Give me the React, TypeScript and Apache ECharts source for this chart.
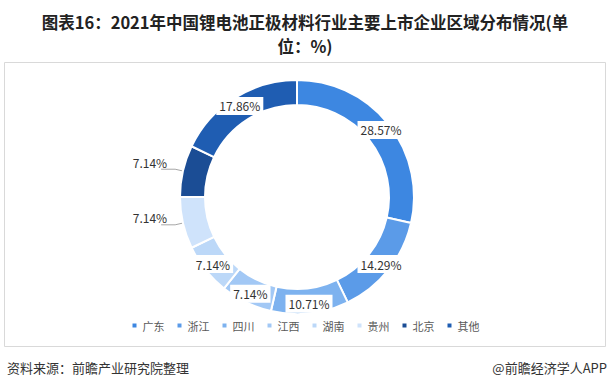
import React, { useEffect, useRef } from "react";
import * as echarts from "echarts";

const titleLine1 = "图表16：2021年中国锂电池正极材料行业主要上市企业区域分布情况(单";
const titleLine2 = "位：%)";
const categories = ["广东", "浙江", "四川", "江西", "湖南", "贵州", "北京", "其他"];
const values = [28.57, 14.29, 10.71, 7.14, 7.14, 7.14, 7.14, 17.86];
const colors = ["#3d87e1", "#5b9be8", "#7db2ef", "#a2c8f5", "#bcd8f8", "#cfe3fb", "#1b4d95", "#1f5db2"];
const outsideLabels = ["贵州", "北京"];
const sourceText = "资料来源：前瞻产业研究院整理";
const brandText = "@前瞻经济学人APP";

export default function App() {
  const ref = useRef<HTMLDivElement>(null);
  useEffect(() => {
    if (!ref.current) return;
    const chart = echarts.init(ref.current, null, { renderer: "svg" });
    const font = "'Noto Sans CJK SC', 'Noto Sans', sans-serif";
    chart.setOption({
      animation: false,
      backgroundColor: "#ffffff",
      textStyle: { fontFamily: font },
      graphic: [
        {
          type: "rect",
          shape: { x: 4.5, y: 62.5, width: 601, height: 284 },
          style: { fill: "none", stroke: "#d9d9d9", lineWidth: 1 },
          silent: true,
        },
        {
          type: "text",
          x: 305,
          y: 22,
          style: {
            text: titleLine1,
            fontSize: 16.5,
            lineHeight: 18,
            fontWeight: "bold",
            fill: "#222",
            fontFamily: font,
            align: "center",
            verticalAlign: "middle",
          },
        },
        {
          type: "text",
          x: 305,
          y: 46,
          style: {
            text: titleLine2,
            fontSize: 16.5,
            lineHeight: 18,
            fontWeight: "bold",
            fill: "#222",
            fontFamily: font,
            align: "center",
            verticalAlign: "middle",
          },
        },
        {
          type: "text",
          x: 7,
          y: 367,
          style: {
            text: sourceText,
            fontSize: 13,
            fill: "#333",
            fontFamily: font,
            verticalAlign: "middle",
          },
        },
        {
          type: "text",
          x: 607,
          y: 367,
          style: {
            text: brandText,
            fontSize: 13,
            fill: "#333",
            fontFamily: font,
            align: "right",
            verticalAlign: "middle",
          },
        },
      ],
      legend: {
        bottom: 54,
        left: "center",
        icon: "rect",
        itemWidth: 6,
        itemHeight: 6,
        itemGap: 11,
        textStyle: { fontSize: 11, color: "#595959", fontFamily: font },
        data: categories,
      },
      series: [
        {
          type: "pie",
          center: [297, 197],
          radius: [92, 117],
          startAngle: 90,
          clockwise: true,
          avoidLabelOverlap: false,
          itemStyle: { borderColor: "#ffffff", borderWidth: 2 },
          label: {
            show: true,
            position: "inside",
            formatter: (p: any) => p.value.toFixed(2) + "%",
            fontSize: 12,
            color: "#333",
            backgroundColor: "#ffffff",
            padding: [3, 3],
            fontFamily: font,
          },
          labelLine: { show: false },
          labelLayout: (p: any) =>
            outsideLabels.includes(categories[p.dataIndex]) ? { dx: 11, dy: -7 } : {},
          data: categories.map((c, i) => {
            const d: any = { name: c, value: values[i], itemStyle: { color: colors[i] } };
            if (outsideLabels.includes(c)) {
              d.label = { position: "outside", backgroundColor: "transparent", padding: 0 };
              d.labelLine = { show: true, length: 8, length2: 14, lineStyle: { color: "#a6a6a6", width: 1 } };
            }
            return d;
          }),
        },
      ],
    });
    return () => chart.dispose();
  }, []);
  return <div ref={ref} style={{ position: "fixed", left: 0, top: 0, width: 610, height: 390 }} />;
}
